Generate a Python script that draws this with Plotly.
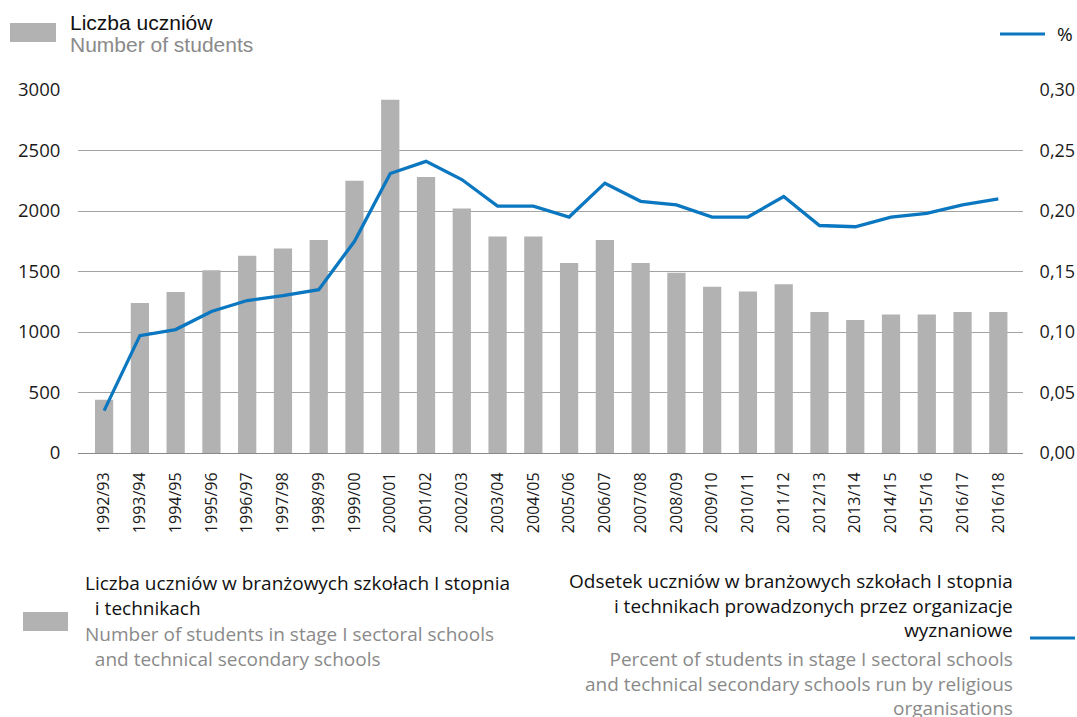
import plotly.graph_objects as go

years = ["1992/93","1993/94","1994/95","1995/96","1996/97","1997/98","1998/99","1999/00",
         "2000/01","2001/02","2002/03","2003/04","2004/05","2005/06","2006/07","2007/08",
         "2008/09","2009/10","2010/11","2011/12","2012/13","2013/14","2014/15","2015/16",
         "2016/17","2016/18"]
students = [440, 1240, 1330, 1510, 1630, 1690, 1760, 2250, 2920, 2280, 2020, 1790, 1790,
            1570, 1760, 1570, 1490, 1375, 1335, 1395, 1165, 1100, 1145, 1145, 1165, 1165]
percent = [0.035, 0.097, 0.102, 0.117, 0.126, 0.130, 0.135, 0.175, 0.231, 0.241, 0.226,
           0.204, 0.204, 0.195, 0.223, 0.208, 0.205, 0.195, 0.195, 0.212, 0.188, 0.187,
           0.195, 0.198, 0.205, 0.210]

BAR = "#b2b2b2"
LINE = "#0a77c0"
GRID = "#a3a3a3"
FONT = "Open Sans"

fig = go.Figure()
fig.add_trace(go.Bar(x=years, y=students, marker=dict(color=BAR, line=dict(width=0)),
                     width=0.51, showlegend=False, name="Liczba uczniów"))
fig.add_trace(go.Scatter(x=years, y=percent, yaxis="y2", mode="lines",
                         line=dict(color=LINE, width=3.3), showlegend=False, name="%"))

fig.update_layout(
    width=1077, height=717, autosize=False,
    margin=dict(l=78, r=54, t=90, b=264, autoexpand=False),
    paper_bgcolor="white", plot_bgcolor="white",
    separators=", ",
    font=dict(family=FONT, size=18, color="#1a1a1a"),
    xaxis=dict(type="category", range=[-0.73, 25.69], tickangle=-90, showgrid=False,
               showline=False, ticks="outside", ticklen=12, tickcolor="white",
               automargin=False,
               tickfont=dict(size=16, family=FONT, color="#1a1a1a")),
    yaxis=dict(range=[0, 3000], tickvals=[0, 500, 1000, 1500, 2000, 2500, 3000],
               tickformat="d", showgrid=True, gridcolor=GRID, gridwidth=1,
               zeroline=True, zerolinecolor="#8a8a8a", zerolinewidth=1.3,
               ticks="outside", ticklen=13, tickcolor="white", automargin=False,
               tickfont=dict(size=18.5, family=FONT, color="#1a1a1a")),
    yaxis2=dict(range=[0, 0.30], overlaying="y", side="right",
                tickvals=[0, 0.05, 0.10, 0.15, 0.20, 0.25, 0.30], tickformat=".2f",
                showgrid=False, zeroline=False, ticks="outside", ticklen=12,
                tickcolor="white", automargin=False,
                tickfont=dict(size=18, family=FONT, color="#1a1a1a")),
    bargap=0.49,
)

shapes = [
    dict(type="rect", xref="paper", yref="paper", xsizemode="pixel", ysizemode="pixel",
         xanchor=0, yanchor=1, x0=-68, x1=-22, y0=67, y1=48,
         fillcolor=BAR, line=dict(width=0)),
    dict(type="line", xref="paper", yref="paper", xsizemode="pixel", ysizemode="pixel",
         xanchor=1, yanchor=1, x0=-23, x1=22, y0=56, y1=56,
         line=dict(color=LINE, width=3)),
    dict(type="rect", xref="paper", yref="paper", xsizemode="pixel", ysizemode="pixel",
         xanchor=0, yanchor=0, x0=-55, x1=-10, y0=-159, y1=-178,
         fillcolor=BAR, line=dict(width=0)),
    dict(type="line", xref="paper", yref="paper", xsizemode="pixel", ysizemode="pixel",
         xanchor=1, yanchor=0, x0=7, x1=52, y0=-185, y1=-185,
         line=dict(color=LINE, width=3)),
]

annotations = [
    dict(xref="paper", yref="paper", x=0, y=1, xshift=-10, yshift=68,
         text="Liczba uczniów", showarrow=False, xanchor="left", yanchor="middle",
         font=dict(family="Liberation Sans", size=21, color="#111111")),
    dict(xref="paper", yref="paper", x=0, y=1, xshift=-10, yshift=46,
         text="Number of students", showarrow=False, xanchor="left", yanchor="middle",
         font=dict(family="Liberation Sans", size=21, color="#8a8a8a")),
    dict(xref="paper", yref="paper", x=1, y=1, xshift=32, yshift=56,
         text="%", showarrow=False, xanchor="left", yanchor="middle",
         font=dict(family=FONT, size=19, color="#111111")),
    dict(xref="paper", yref="paper", x=0, y=0, xshift=5, yshift=-115,
         text="Liczba uczniów w branżowych szkołach I stopnia<br>  i technikach",
         showarrow=False, xanchor="left", yanchor="top", align="left",
         font=dict(family=FONT, size=19, color="#111111")),
    dict(xref="paper", yref="paper", x=0, y=0, xshift=5, yshift=-166,
         text="Number of students in stage I sectoral schools<br>  and technical secondary schools",
         showarrow=False, xanchor="left", yanchor="top", align="left",
         font=dict(family=FONT, size=19, color="#8a8a8a")),
    dict(xref="paper", yref="paper", x=1, y=0, xshift=-8, yshift=-113,
         text="Odsetek uczniów w branżowych szkołach I stopnia<br>i technikach prowadzonych przez organizacje<br>wyznaniowe",
         showarrow=False, xanchor="right", yanchor="top", align="right",
         font=dict(family=FONT, size=19, color="#111111")),
    dict(xref="paper", yref="paper", x=1, y=0, xshift=-8, yshift=-191,
         text="Percent of students in stage I sectoral schools<br>and technical secondary schools run by religious<br>organisations",
         showarrow=False, xanchor="right", yanchor="top", align="right",
         font=dict(family=FONT, size=19, color="#8a8a8a")),
]
fig.update_layout(shapes=shapes, annotations=annotations)

fig.write_html("out.html", config={"responsive": False, "displayModeBar": False},
               post_script="document.body.style.margin='0';document.body.style.overflow='hidden';")
